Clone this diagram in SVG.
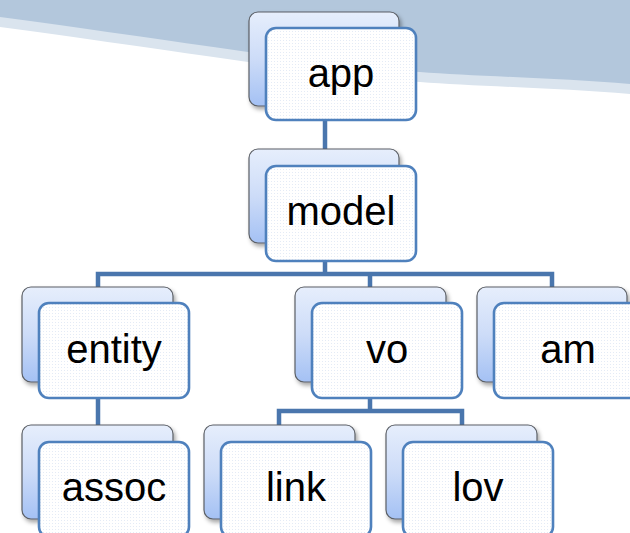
<svg xmlns="http://www.w3.org/2000/svg" width="630" height="533" viewBox="0 0 630 533">
<style>
.back{fill:url(#bg);stroke:#5b5f66;stroke-width:1.2}
.front{fill:url(#dots);stroke:#4f81bd;stroke-width:2.6}
.lbl{font-family:"Liberation Sans",Arial,sans-serif;font-size:40px;fill:#000;text-anchor:middle}
.conn{fill:none;stroke:#4a76ad;stroke-width:4.5;stroke-linejoin:miter;stroke-linecap:butt}
</style>
<defs>
<linearGradient id="bg" x1="0" y1="0" x2="0" y2="1">
<stop offset="0" stop-color="#e6eefc"/>
<stop offset="0.5" stop-color="#cddcf8"/>
<stop offset="1" stop-color="#a4c1f4"/>
</linearGradient>
<pattern id="dots" width="3" height="3" patternUnits="userSpaceOnUse">
<rect width="3" height="3" fill="#ffffff"/>
<rect x="1" y="1" width="1" height="1" fill="#e4ebf6"/>
</pattern>
<filter id="sh" x="-10%" y="-10%" width="130%" height="130%">
<feDropShadow dx="2" dy="3" stdDeviation="2" flood-color="#000" flood-opacity="0.35"/>
</filter>
</defs>
<rect width="630" height="533" fill="#ffffff"/>
<path d="M0,0 H630 V94 C560,88 470,86 420,82 C330,76 200,54 0,27 Z" fill="#dae4ee"/>
<path d="M0,0 H630 V84 C560,78 470,76 420,72 C330,66 200,44 0,17 Z" fill="#b3c7dc"/>
<g id="connectors">
<path class="conn" d="M325,110 V150"/>
<path class="conn" d="M325,250 V274 M98,288 V274 H552 V288 M370,274 V288"/>
<path class="conn" d="M98,390 V426"/>
<path class="conn" d="M370,390 V411 M279,426 V411 H462 V426"/>
</g>
<g id="app">
<rect class="back" filter="url(#sh)" x="249" y="12" width="150" height="94" rx="9"/>
<rect class="front" x="266" y="28" width="150" height="92" rx="10"/>
<text class="lbl" x="341" y="87">app</text>
</g>
<g id="model">
<rect class="back" filter="url(#sh)" x="249" y="149" width="150" height="94" rx="9"/>
<rect class="front" x="266" y="166" width="150" height="95" rx="10"/>
<text class="lbl" x="341" y="225">model</text>
</g>
<g id="entity">
<rect class="back" filter="url(#sh)" x="22" y="287" width="151" height="95" rx="9"/>
<rect class="front" x="39" y="303" width="150" height="95" rx="10"/>
<text class="lbl" x="114" y="363">entity</text>
</g>
<g id="vo">
<rect class="back" filter="url(#sh)" x="295" y="287" width="151" height="95" rx="9"/>
<rect class="front" x="312" y="303" width="150" height="95" rx="10"/>
<text class="lbl" x="387" y="363">vo</text>
</g>
<g id="am">
<rect class="back" filter="url(#sh)" x="477" y="287" width="150" height="95" rx="9"/>
<rect class="front" x="494" y="303" width="150" height="95" rx="10"/>
<text class="lbl" x="568" y="363">am</text>
</g>
<g id="assoc">
<rect class="back" filter="url(#sh)" x="22" y="425" width="151" height="94" rx="9"/>
<rect class="front" x="39" y="442" width="150" height="95" rx="10"/>
<text class="lbl" x="114" y="501">assoc</text>
</g>
<g id="link">
<rect class="back" filter="url(#sh)" x="204" y="425" width="151" height="94" rx="9"/>
<rect class="front" x="221" y="442" width="150" height="95" rx="10"/>
<text class="lbl" x="296" y="501">link</text>
</g>
<g id="lov">
<rect class="back" filter="url(#sh)" x="386" y="425" width="151" height="94" rx="9"/>
<rect class="front" x="403" y="442" width="150" height="95" rx="10"/>
<text class="lbl" x="478" y="501">lov</text>
</g>
</svg>
